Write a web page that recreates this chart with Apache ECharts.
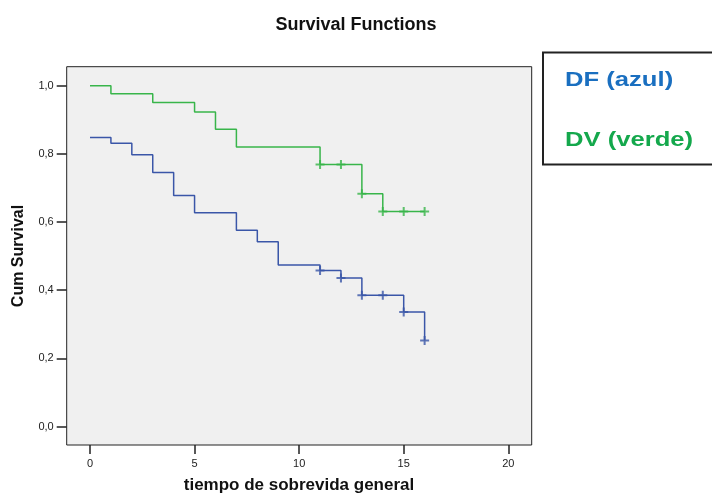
<!DOCTYPE html>
<html>
<head>
<meta charset="utf-8">
<script src="https://cdn.jsdelivr.net/npm/echarts@6/dist/echarts.min.js"></script>
<style>html,body{margin:0;padding:0;background:#fff;}#c{width:712px;height:495px;}</style>
</head>
<body>
<div id="c"></div>
<script>
// DV (verde) Kaplan-Meier steps
var greenTimes = [0, 1, 3, 5, 6, 7, 11, 13, 14, 16];
var greenSurv  = [1.000, 0.976, 0.951, 0.923, 0.872, 0.820, 0.769, 0.683, 0.631, 0.631];
var greenCensorTimes = [11, 12, 13, 14, 15, 16];
var greenCensorSurv  = [0.769, 0.769, 0.683, 0.631, 0.631, 0.631];
// DF (azul) Kaplan-Meier steps
var blueTimes = [0, 1, 2, 3, 4, 5, 7, 8, 9, 11, 12, 13, 15, 16];
var blueSurv  = [0.848, 0.831, 0.797, 0.745, 0.678, 0.627, 0.576, 0.542, 0.474, 0.458, 0.436, 0.385, 0.336, 0.252];
var blueCensorTimes = [11, 12, 13, 14, 15, 16];
var blueCensorSurv  = [0.458, 0.436, 0.385, 0.385, 0.336, 0.252];
// tick labels
var xTicks = [0, 5, 10, 15, 20];
var yTicks = [0, 0.2, 0.4, 0.6, 0.8, 1.0];

function pairs(xs, ys) { return xs.map(function (x, i) { return [x, ys[i]]; }); }

var FONT = '"Liberation Sans", Arial, sans-serif';
var plus = 'path://M-0.9,-4H0.9V-0.9H4V0.9H0.9V4H-0.9V0.9H-4V-0.9H-0.9Z';
var blueC = '#3a56a8', greenC = '#38b54a';

var chart = echarts.init(document.getElementById('c'), null, {renderer: 'canvas'});
chart.setOption({
  animation: false,
  backgroundColor: '#ffffff',
  title: {
    text: 'Survival Functions', left: 'center', top: 11,
    textStyle: {fontFamily: FONT, fontSize: 18, fontWeight: 'bold', color: '#111'}
  },
  grid: {
    left: 66.7, right: 180.3, top: 66.7, bottom: 50,
    show: true, backgroundColor: '#f0f0f0', borderColor: '#222', borderWidth: 1
  },
  xAxis: {
    type: 'value', min: -1.114, max: 21.12,
    splitLine: {show: false},
    axisLine: {show: false, onZero: false},
    axisTick: {show: true, customValues: xTicks, length: 9, lineStyle: {color: '#222', width: 1.5}},
    axisLabel: {customValues: xTicks, margin: 13, fontFamily: FONT, fontSize: 11, color: '#222'}
  },
  yAxis: {
    type: 'value', min: -0.0543, max: 1.0557,
    splitLine: {show: false},
    axisLine: {show: false, onZero: false},
    axisTick: {show: true, customValues: yTicks, length: 10, lineStyle: {color: '#222', width: 1.5}},
    axisLabel: {
      customValues: yTicks, margin: 13, fontFamily: FONT, fontSize: 11, color: '#222',
      formatter: function (v) { return v.toFixed(1).replace('.', ','); }
    }
  },
  series: [
    {type: 'line', step: 'end', data: pairs(greenTimes, greenSurv), showSymbol: false,
     lineStyle: {color: greenC, width: 1.5}, z: 3},
    {type: 'line', step: 'end', data: pairs(blueTimes, blueSurv), showSymbol: false,
     lineStyle: {color: blueC, width: 1.5}, z: 3},
    {type: 'scatter', data: pairs(greenCensorTimes, greenCensorSurv), symbol: plus, symbolSize: 9,
     itemStyle: {color: greenC}, z: 4},
    {type: 'scatter', data: pairs(blueCensorTimes, blueCensorSurv), symbol: plus, symbolSize: 9,
     itemStyle: {color: blueC}, z: 4}
  ],
  graphic: [
    {type: 'text', x: 19, y: 256, rotation: Math.PI / 2,
     style: {text: 'Cum Survival', font: 'bold 16px ' + FONT, fill: '#111', textAlign: 'center', textVerticalAlign: 'middle'}},
    {type: 'text', x: 299, y: 485,
     style: {text: 'tiempo de sobrevida general', font: 'bold 17px ' + FONT, fill: '#111', textAlign: 'center', textVerticalAlign: 'middle'}},
    {type: 'rect', shape: {x: 543, y: 52.5, width: 185, height: 112}, style: {fill: '#fff', stroke: '#222', lineWidth: 2}},
    {type: 'text', x: 565, y: 80, scaleX: 1.22,
     style: {text: 'DF (azul)', font: 'bold 21px ' + FONT, fill: '#1a6fc0', textAlign: 'left', textVerticalAlign: 'middle'}},
    {type: 'text', x: 565, y: 140, scaleX: 1.22,
     style: {text: 'DV (verde)', font: 'bold 21px ' + FONT, fill: '#14a84c', textAlign: 'left', textVerticalAlign: 'middle'}}
  ]
});
</script>
</body>
</html>
